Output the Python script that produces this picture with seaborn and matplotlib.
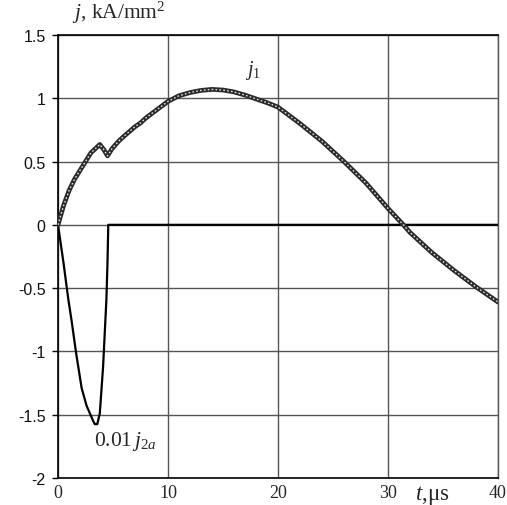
import matplotlib
matplotlib.use("Agg")
import matplotlib.pyplot as plt
import seaborn as sns
import pandas as pd

# ---- data ----
t_j1 = [0, 0.5, 1, 1.5, 2, 2.5, 3, 3.5, 3.8, 4.2, 4.5, 4.9, 5.5, 6, 7, 7.5, 8, 9, 10,
        11, 12, 13, 14, 15, 16, 17, 18, 19, 20, 22, 24, 26, 28, 30, 31.4, 32, 34, 36, 38, 40]
j1 = [0, 0.15, 0.27, 0.36, 0.43, 0.50, 0.57, 0.61, 0.635, 0.59, 0.545, 0.60, 0.66, 0.70, 0.775, 0.805, 0.845, 0.91, 0.975,
      1.02, 1.045, 1.062, 1.07, 1.065, 1.05, 1.025, 0.995, 0.965, 0.93, 0.80, 0.66, 0.50, 0.33, 0.13, 0.0, -0.06, -0.22, -0.36, -0.49, -0.61]

t_j2 = [0, 0.5, 0.94, 1.24, 1.64, 2.15, 2.6, 3.2, 3.35, 3.57, 3.8, 4.1, 4.4, 4.5, 4.57, 40]
j2a = [0, -0.30, -0.59, -0.76, -1.01, -1.29, -1.43, -1.55, -1.575, -1.575, -1.49, -1.12, -0.59, -0.30, 0.0, 0.0]

x_ticks = [0, 10, 20, 30, 40]
y_ticks = [1.5, 1, 0.5, 0, -0.5, -1, -1.5, -2]
y_tick_labels = ["1.5", "1", "0.5", "0", "-0.5", "-1", "-1.5", "-2"]

df1 = pd.DataFrame({"t": t_j1, "j": j1})
df2 = pd.DataFrame({"t": t_j2, "j": j2a})

sns.set_style("white")
plt.rcParams["font.family"] = ["DejaVu Sans"]
plt.rcParams["mathtext.fontset"] = "custom"
plt.rcParams["mathtext.rm"] = "Liberation Serif"
plt.rcParams["mathtext.it"] = "Liberation Serif:italic"
plt.rcParams["mathtext.bf"] = "Liberation Serif:bold"

fig = plt.figure(figsize=(5.07, 5.06), dpi=100)
ax = fig.add_axes([0.1144, 0.0534, 0.8678, 0.8755])

ax.set_xlim(0, 40)
ax.set_ylim(-2, 1.5)
ax.set_xticks(x_ticks)
ax.set_yticks(y_ticks)
ax.grid(True, color="#555555", linewidth=1.0)
ax.set_axisbelow(True)

# j2a curve (black line)
sns.lineplot(data=df2, x="t", y="j", ax=ax, color="black", linewidth=1.6,
             sort=False, estimator=None, legend=False, zorder=3)
# j1 curve: thick dark line with light dotted core to mimic open circle markers
sns.lineplot(data=df1, x="t", y="j", ax=ax, color="#2a2a2a", linewidth=3.4,
             sort=False, estimator=None, legend=False, zorder=4)
sns.lineplot(data=df1, x="t", y="j", ax=ax, color="#e0e0e0", linewidth=1.0,
             linestyle=(0, (1.2, 1.6)), sort=False, estimator=None, legend=False, zorder=5)

ax.set_xlabel("")
ax.set_ylabel("")

for s in ["left", "bottom", "top"]:
    ax.spines[s].set_color("black")
    ax.spines[s].set_linewidth(1.2)
ax.spines["right"].set_color("#555555")
ax.spines["right"].set_linewidth(1.0)

ax.set_yticklabels(y_tick_labels, fontfamily="Liberation Sans", fontsize=11.5, color="#111111")
ax.set_xticklabels([str(v) for v in x_ticks], fontfamily="Liberation Serif", fontsize=13)
ax.tick_params(axis="y", direction="out", length=4, width=1, color="black", pad=5, left=True)
ax.tick_params(axis="x", length=0, pad=4)

serif = "Liberation Serif"
# y-axis title at top
fig.text(0.142, 0.962, r"$j$, kA/mm$^{2}$", fontsize=15.5, fontfamily=serif,
         ha="left", va="baseline")

# curve labels
ax.text(17.0, 1.19, r"$j_{1}$", fontsize=14.5, fontfamily=serif, ha="left", va="baseline")
ax.text(3.3, -1.74, r"0.01$\,j_{2a}$", fontsize=15.5, fontfamily=serif, ha="left", va="baseline")

# x-axis title near the bottom right
fig.text(0.818, 0.012, r"$t$,$\mathrm{\mu}$s", fontsize=16.5, fontfamily=serif,
         ha="left", va="baseline")

fig.savefig("out.png", dpi=100)
